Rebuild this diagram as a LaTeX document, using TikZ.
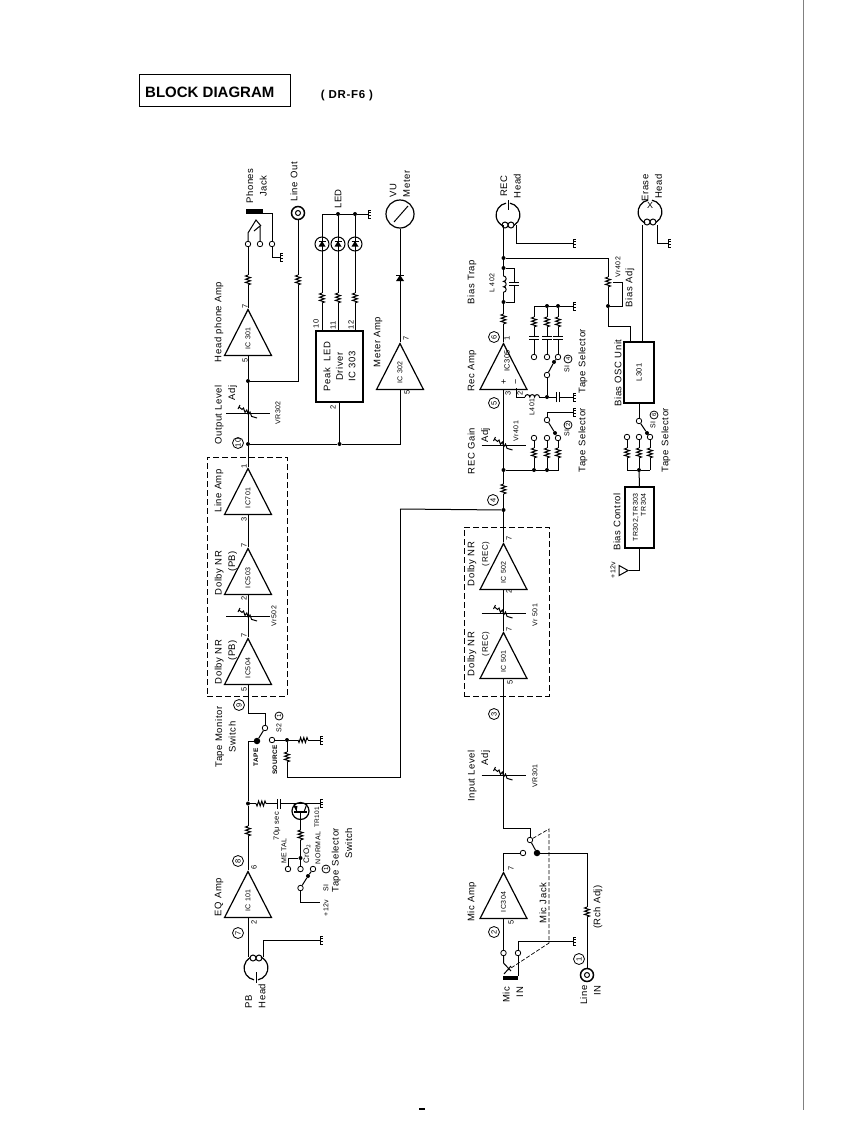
\documentclass[tikz,border=0pt]{standalone}
\usepackage{fontspec}
\setmainfont[LetterSpace=6]{Liberation Sans}
\newfontfamily\titlefont{Liberation Sans}
\usetikzlibrary{shapes.geometric}

\tikzset{
  wire/.style={line width=1pt},
  amp/.style={draw,line width=1.2pt,isosceles triangle,isosceles triangle stretches,minimum width=47pt,minimum height=46pt,inner sep=0pt,rotate=90,font=\fontsize{7}{8}\selectfont},
  lbl/.style={rotate=90,inner sep=0pt,font=\fontsize{9.5}{13.5}\selectfont},
  pinno/.style={rotate=90,inner sep=0pt,font=\fontsize{7.5}{8}\selectfont},
  small/.style={rotate=90,inner sep=0pt,font=\fontsize{7}{8}\selectfont},
  num/.style={circle,draw,line width=0.8pt,minimum size=11pt,inner sep=0pt,rotate=90,font=\fontsize{7.5}{8}\selectfont},
  numsmall/.style={num,minimum size=8pt,font=\fontsize{6}{7}\selectfont},
  term/.style={circle,draw,line width=0.8pt,fill=white,minimum size=5.5pt,inner sep=0pt},
  dot/.style={circle,fill,minimum size=4pt,inner sep=0pt},
  bdot/.style={circle,fill,minimum size=6.5pt,inner sep=0pt},
  blockbox/.style={draw,line width=1.2pt,inner sep=0pt,rotate=90},
  nrbox/.style={draw,dash pattern=on 6pt off 3pt,line width=1pt,inner sep=0pt},
  socket/.style={circle,draw,line width=1.5pt,minimum size=13pt,inner sep=0pt},
  vres/.pic={\fill[white] (-3,-5) rectangle (3,5);
    \draw[wire] (0,-5) -- (-2.5,-4) -- (2.5,-2.4) -- (-2.5,-0.8) -- (2.5,0.8) -- (-2.5,2.4) -- (2.5,4) -- (0,5);},
  vrpot/.pic={\draw[wire] (-22,0) -- (22,0);
    \draw[wire] (-10,-4) -- (-8,-8);
    \draw[wire] (-9,-6) -- (-6,-3.6) -- (-4.5,-5) -- (-3,-0.6) -- (-1.2,-3) -- (0.4,1.6) -- (2,-1) -- (3.6,3.4) -- (9,5);},
  vcap/.pic={\fill[white] (-5,-1.5) rectangle (5,1.5);
    \draw[wire] (-5,-1.5) -- (5,-1.5) (-5,1.5) -- (5,1.5);},
  gnd/.pic={\draw[wire] (0,-4) -- (0,4) (0,-4) -- (3,-4) (0,-1.3) -- (3,-1.3) (0,1.3) -- (3,1.3) (0,4) -- (3,4);},
  ledmark/.pic={\draw[wire,fill=white] (0,0) circle (7);
    \fill (-3.5,2.5) -- (3.5,2.5) -- (0,-3) -- cycle;
    \draw[wire] (-3.5,-3) -- (3.5,-3) (0,-7) -- (0,7);},
  diodemark/.pic={\fill (-4,3) -- (4,3) -- (0,-3) -- cycle;
    \draw[wire] (-4,-3) -- (4,-3);},
  headmark/.pic={\draw[line width=1.2pt] (-2,-11.8) arc[start angle=100,end angle=245,radius=12pt];
    \draw[line width=1.2pt] (2,-11.8) arc[start angle=80,end angle=-60,radius=12pt];
    \draw[wire] (-3,10) circle (3) (3,10) circle (3);},
}

\begin{document}
\begin{tikzpicture}[x=1pt,y=-1pt]
  \useasboundingbox (0,0) rectangle (866,1122);
  \fill[white] (0,0) rectangle (866,1122);

  \node[draw,line width=1pt,minimum width=151pt,minimum height=32pt,inner sep=0pt] (titlebox) at (214.5,90) {};
  \node[anchor=west,inner sep=0pt,font=\titlefont\bfseries\fontsize{15}{17}\selectfont] (title) at (145,92) {BLOCK DIAGRAM};
  \node[inner sep=0pt,font=\bfseries\fontsize{11.5}{13}\selectfont] (model) at (347,96) {( DR-F6 )};

  % line and headphone side
  \node[amp,anchor=apex] (ic301) at (248,308) {IC 301};
  \node[amp,anchor=apex] (ic701) at (248,467) {IC701};
  \node[amp,anchor=apex] (ic503) at (248,547) {IC503};
  \node[amp,anchor=apex] (ic504) at (248,637) {IC504};
  \node[amp,anchor=apex] (ic101) at (248,870) {IC 101};
  \node[amp,anchor=apex] (ic302) at (400,342) {IC 302};
  \node[nrbox,minimum width=80pt,minimum height=239pt] (pbnr) at (247,576.5) {};

  \fill (246,209) rectangle (263,214);
  \node[term] (jacka) at (248,244) {};
  \node[term] (jackb) at (260,244) {};
  \node[term] (jackc) at (272,244) {};
  \coordinate (jacktop) at (263,213);
  \coordinate (jackgnd) at (280,257);
  \draw[wire] (jacka) -- (248,233) -- (256,220) -- (261,226);
  \draw[wire] (jackb) -- (260,226) -- (254,231);
  \draw[wire] (jacktop) -| (jackc);
  \draw[wire] (jackc) |- (jackgnd);
  \pic at (jackgnd) {gnd};
  \draw[wire] (jacka) -- (ic301.apex);
  \pic at (248,280) {vres};

  \node[socket] (lineout) at (298,213) {};
  \draw[wire] (298,213) circle (2.5);
  \node[dot] (jlevel) at (248,381) {};
  \draw[wire] (lineout) |- (jlevel);
  \pic at (298,280) {vres};
  \draw[wire] (ic301.lower side) -- (jlevel);

  \node[dot] (j10) at (248,444) {};
  \node[dot] (jdrv) at (339.5,444) {};
  \draw[wire] (jlevel) -- (j10);
  \pic at (248,413) {vrpot};
  \draw[wire] (j10) -- (ic701.apex);
  \draw[wire] (ic701.lower side) -- (ic503.apex);
  \draw[wire] (ic503.lower side) -- (ic504.apex);
  \pic at (248,616) {vrpot};
  \coordinate (c9) at (248,713);
  \node[term] (s2a) at (265,728) {};
  \node[bdot] (s2b) at (257,741) {};
  \node[dot] (jeq) at (248,803.5) {};
  \draw[wire] (ic504.lower side) -- (c9) -| (s2a);
  \draw[wire] (s2a) -- (s2b);
  \draw[wire] (s2b) -| (jeq);
  \draw[wire] (jeq) -- (ic101.apex);
  \pic at (248,831) {vres};

  \node[term] (s2src) at (272,740) {};
  \node[dot] (jsrc) at (287,740) {};
  \coordinate (srcgnd) at (320,740);
  \coordinate (c777) at (400,777);
  \coordinate (c509) at (400,509);
  \draw[wire] (s2src) -- (jsrc) -- (srcgnd);
  \pic at (srcgnd) {gnd};
  \pic[rotate=90] at (303,740) {vres};
  \draw[wire] (jsrc) |- (c777) -- (c509);
  \pic at (287,757) {vres};

  % peak driver and meter
  \node[blockbox,minimum width=71pt,minimum height=47pt,align=center,font=\fontsize{9.5}{12.5}\selectfont] (ic303) at (339.5,366.5) {Peak\hspace{7pt}LED\\Driver\\IC 303};
  \coordinate (ledrail) at (322,214);
  \node[dot] (ledb) at (338,214) {};
  \node[dot] (ledc) at (355,214) {};
  \coordinate (ledgnd) at (368,214);
  \draw[wire] (ledrail) -- (ledb) -- (ledc) -- (ledgnd);
  \pic at (ledgnd) {gnd};
  \draw[wire] (ledrail) -- (322,331);
  \draw[wire] (ledb) -- (338,331);
  \draw[wire] (ledc) -- (355,331);
  \pic at (322,244) {ledmark};
  \pic at (338,244) {ledmark};
  \pic at (355,244) {ledmark};
  \pic at (322,298) {vres};
  \pic at (338,298) {vres};
  \pic at (355,298) {vres};
  \draw[wire] (jdrv) -- (ic303.west);
  \draw[wire] (j10) -- (jdrv) -| (ic302.lower side);

  \node[draw,circle,line width=1.2pt,minimum size=28pt,inner sep=0pt] (vu) at (400,214) {};
  \draw[wire] (394,222) -- (408,206);
  \draw[wire] (vu) -- (ic302.apex);
  \pic at (400,278) {diodemark};

  % eq amp and tape selector
  \coordinate (pbhead) at (256,968);
  \pic[rotate=180] at (pbhead) {headmark};
  \draw[wire] (256,972) -- (256,983);
  \draw[wire] (ic101.lower side) -- (248,957);
  \coordinate (pbgnd) at (320,940);
  \draw[wire] (263,957) |- (pbgnd);
  \pic at (pbgnd) {gnd};

  \coordinate (trgnd) at (320,803.5);
  \node[draw,circle,line width=1.2pt,minimum size=17pt,inner sep=0pt] (tr101) at (300.5,811) {};
  \draw[wire] (jeq) -- (trgnd);
  \pic at (trgnd) {gnd};
  \pic[rotate=90] at (261,803.5) {vres};
  \pic[rotate=90] at (279,803.5) {vcap};
  \draw[wire] (294,803.5) -- (297,812) (307,803.5) -- (304,812);
  \draw[line width=1.4pt] (294,812) -- (307,812);
  \fill (293.5,806) -- (297.5,806) -- (296.5,811) -- cycle;
  \node[dot] (jbase) at (300.5,858) {};
  \draw[wire] (300.5,812) -- (jbase);
  \pic at (300.5,835) {vres};
  \node[term] (s1metal) at (288,869) {};
  \node[term] (s1cro) at (300.5,869) {};
  \node[term] (s1norm) at (313,869) {};
  \node[term] (s1pole) at (300.5,888) {};
  \node[dot] (s1knob) at (308,876) {};
  \coordinate (plus12a) at (320,902);
  \draw[wire] (jbase) -| (s1metal);
  \draw[wire] (jbase) -- (s1cro);
  \draw[wire] (s1pole) -- (s1knob) -- (s1norm);
  \draw[wire] (s1pole) |- (plus12a);

  % rec side
  \node[amp,anchor=apex] (ic305) at (503.5,342) {};
  \node[amp,anchor=apex] (ic502) at (503.5,542) {IC 502};
  \node[amp,anchor=apex] (ic501) at (503.5,631) {IC 501};
  \node[amp,anchor=apex] (ic304) at (503.5,871) {IC304};
  \node[nrbox,minimum width=85pt,minimum height=169pt] (recnr) at (506.5,611.5) {};

  \coordinate (rechead) at (508,215);
  \pic at (rechead) {headmark};
  \draw[wire] (508,200) -- (508,210);
  \coordinate (recgnd) at (573,243);
  \node[dot] (jbias) at (503.5,258) {};
  \node[dot] (jtrapa) at (503.5,268) {};
  \node[dot] (jtrapb) at (503.5,302) {};
  \draw[wire] (516,225) |- (recgnd);
  \pic at (recgnd) {gnd};
  \draw[wire] (503.5,225) -- (jbias) -- (jtrapa) -- (jtrapb) -- (ic305.apex);
  \fill[white] (501,276) rectangle (506,292);
  \draw[wire] (503.5,276) arc[start angle=90,end angle=-90,radius=2.7pt] arc[start angle=90,end angle=-90,radius=2.7pt] arc[start angle=90,end angle=-90,radius=2.7pt];
  \draw[wire] (jtrapa) -| (514,302) -- (jtrapb);
  \pic at (514,284) {vcap};
  \pic at (503.5,319) {vres};

  \node[dot] (jvr402) at (608,306) {};
  \draw[wire] (jbias) -| (jvr402);
  \pic at (608,282) {vres};
  \draw[wire] (613,282) -- (622,282) |- (jvr402);
  \node[blockbox,minimum width=61pt,minimum height=30pt,font=\fontsize{7.5}{9}\selectfont] (l301) at (639,372.5) {L301};
  \coordinate (c326) at (608,326);
  \draw[wire] (jvr402) -- (c326) -| (630,342);
  \coordinate (erasehead) at (650,212);
  \pic at (erasehead) {headmark};
  \draw[wire] (642,342) -- (642,225);
  \coordinate (erasegnd) at (668,243);
  \draw[wire] (657,225) |- (erasegnd);
  \pic at (erasegnd) {gnd};

  \coordinate (railtop) at (534,306);
  \node[dot] (rtb) at (547,306) {};
  \node[dot] (rtc) at (558,306) {};
  \coordinate (railgnd) at (573,306);
  \draw[wire] (railtop) -- (rtb) -- (rtc) -- (railgnd);
  \pic at (railgnd) {gnd};
  \node[term] (s4a) at (534,357) {};
  \node[term] (s4b) at (547,357) {};
  \node[term] (s4c) at (558,357) {};
  \node[term] (s4p) at (547,375) {};
  \node[dot] (s4knob) at (554,362) {};
  \draw[wire] (railtop) -- (s4a);
  \draw[wire] (rtb) -- (s4b);
  \draw[wire] (rtc) -- (s4c);
  \draw[wire] (s4p) -- (s4knob) -- (s4c);
  \foreach \px in {534,547,558} {
    \pic at (\px,322) {vres};
    \pic at (\px,338) {vcap};
  }
  \node[dot] (jl401) at (547,397) {};
  \coordinate (l401gnd) at (573,397);
  \coordinate (c2a) at (516,397);
  \draw[wire] (516,388) -- (c2a) -- (jl401) -- (l401gnd);
  \pic at (l401gnd) {gnd};
  \draw[wire] (s4p) -- (jl401);
  \pic[rotate=90] at (558,397) {vcap};
  \fill[white] (525,395) rectangle (539,399);
  \draw[wire] (525,397) arc[start angle=180,end angle=0,radius=2.4pt] arc[start angle=180,end angle=0,radius=2.4pt] arc[start angle=180,end angle=0,radius=2.4pt];

  \node[dot] (jrail) at (503.5,470) {};
  \draw[wire] (ic305.lower side) -- (jrail);
  \pic at (503.5,445) {vrpot};
  \node[term] (s2p) at (547,420) {};
  \node[term] (s2ta) at (534,438) {};
  \node[term] (s2tb) at (547,438) {};
  \node[term] (s2tc) at (558,438) {};
  \node[dot] (s2knob) at (555,433) {};
  \coordinate (s2gnd) at (573,412);
  \draw[wire] (s2p) -- (547,412) -- (s2gnd);
  \pic at (s2gnd) {gnd};
  \draw[wire] (s2p) -- (s2knob) -- (s2tc);
  \node[dot] (jra) at (534,470) {};
  \node[dot] (jrb) at (547,470) {};
  \coordinate (jrc) at (558,470);
  \draw[wire] (jrail) -- (jra) -- (jrb) -- (jrc) -- (s2tc);
  \draw[wire] (jra) -- (s2ta);
  \draw[wire] (jrb) -- (s2tb);
  \pic at (534,453) {vres};
  \pic at (547,453) {vres};
  \pic at (558,453) {vres};

  \node[dot] (j4) at (503.5,510) {};
  \draw[wire] (j4) -- (jrail);
  \pic at (503.5,489) {vres};
  \draw[wire] (c509) -- (j4);
  \draw[wire] (ic502.apex) -- (j4);
  \draw[wire] (ic502.lower side) -- (ic501.apex);
  \pic at (503.5,613) {vrpot};
  \coordinate (c828) at (503.5,828);
  \node[term] (micsa) at (530,840) {};
  \node[bdot] (micsb) at (537,853) {};
  \node[term] (micsc) at (523,853) {};
  \draw[wire] (ic501.lower side) -- (c828) -| (micsa);
  \draw[wire] (micsa) -- (micsb);
  \pic at (503.5,775) {vrpot};
  \draw[wire] (micsc) -| (ic304.apex);
  \node[socket] (linein) at (587,975) {};
  \draw[wire] (587,975) circle (2.5);
  \draw[wire] (micsb) -| (linein);
  \pic at (587,912) {vres};
  \node[term] (micja) at (503.5,953) {};
  \node[term] (micjb) at (518,953) {};
  \coordinate (micgnd) at (573,941);
  \draw[wire] (ic304.lower side) -- (micja);
  \draw[wire] (micjb) |- (micgnd);
  \pic at (micgnd) {gnd};
  \fill (503,975.5) rectangle (517.5,979.5);
  \draw[wire] (micjb) -- (518,976);
  \draw[wire] (micja) -- (503.5,963) -- (511,971);
  \draw[wire] (504,974) -- (511,966);
  \draw[dash pattern=on 4pt off 2pt,line width=0.7pt] (micsa) -- (549,829) -- (549,943) -- (508,970);

  % bias control
  \node[blockbox,minimum width=61pt,minimum height=29pt,align=right,font=\fontsize{7}{8}\selectfont] (biasctl) at (639.5,517.5) {TR302,TR303\\TR304};
  \node[draw,line width=1pt,isosceles triangle,isosceles triangle stretches,minimum width=10pt,minimum height=9pt,inner sep=0pt] (plus12b) at (622,570.5) {};
  \draw[wire] (biasctl.west) |- (plus12b.apex);
  \node[dot] (jbc) at (639,470) {};
  \coordinate (bca) at (627,470);
  \coordinate (bcc) at (650,470);
  \draw[wire] (bca) -- (jbc) -- (bcc);
  \draw[wire] (jbc) -- (biasctl.east);
  \node[term] (s6a) at (627,437) {};
  \node[term] (s6b) at (639,437) {};
  \node[term] (s6c) at (650,437) {};
  \node[term] (s6p) at (639,421) {};
  \node[dot] (s6knob) at (647,433) {};
  \draw[wire] (bca) -- (s6a);
  \draw[wire] (jbc) -- (s6b);
  \draw[wire] (bcc) -- (s6c);
  \draw[wire] (s6p) -- (s6knob) -- (s6c);
  \draw[wire] (s6p) -- (l301.west);
  \pic at (627,453) {vres};
  \pic at (639,453) {vres};
  \pic at (650,453) {vres};

  % labels
  \node[lbl,align=center] (lphones) at (256.5,186) {Phones\\Jack};
  \node[lbl] (llineout) at (294,182) {Line Out};
  \node[lbl] (lled) at (338,199) {LED};
  \node[lbl,align=left] (lvu) at (400,184) {VU\\Meter};
  \node[lbl] (lhp) at (219,322) {Head phone Amp};
  \node[lbl] (lmeter) at (378,342) {Meter Amp};
  \node[lbl,align=right] (loutput) at (226,415) {Output Level\\Adj};
  \node[small] (lvr302) at (278,413) {VR302};
  \node[num] (n10) at (238,443) {10};
  \node[lbl] (lline) at (219,491) {Line Amp};
  \node[lbl,align=right] (lpba) at (226,573) {Dolby NR\\(PB)\hspace{5pt}};
  \node[small] (lvr502) at (274,616) {Vr502};
  \node[lbl,align=right] (lpbb) at (226,662) {Dolby NR\\(PB)};
  \node[lbl,align=center] (lmon) at (225.5,737) {Tape Monitor\\Switch};
  \node[num] (n9) at (239,705) {9};
  \node[small] (ls2) at (279,728) {S2};
  \node[numsmall] (ns2) at (279,716) {1};
  \node[small,font=\bfseries\fontsize{6.5}{7}\selectfont] (ltape) at (256,757) {TAPE};
  \node[small,font=\bfseries\fontsize{6.5}{7}\selectfont] (lsource) at (275,760) {SOURCE};
  \node[small,font=\fontsize{7.5}{8}\selectfont] (l70) at (277,826) {70μ sec};
  \node[small,font=\fontsize{6.5}{7}\selectfont] (ltr101) at (317,817) {TR101};
  \node[small] (lmetal) at (284,851) {METAL};
  \node[small,font=\fontsize{8}{9}\selectfont] (lcro) at (307,854) {CrO$_2$};
  \node[small] (lnormal) at (318,848) {NORMAL};
  \node[small] (ls1) at (326,888) {SI};
  \node[numsmall] (ns1) at (326,869) {1};
  \node[lbl,align=right] (lsel) at (342,860) {Tape Selector\\Switch\hspace{6pt}};
  \node[small] (lplusa) at (326,908) {+12v};
  \node[num] (n8) at (238,861) {8};
  \node[lbl] (leq) at (219,897) {EQ Amp};
  \node[num] (n7) at (238,933) {7};
  \node[lbl,align=left] (lpb) at (255.5,996) {PB\\Head};

  \node[lbl,align=center] (lrec) at (510.5,186) {REC\\Head};
  \node[lbl,align=right] (lerase) at (652,188) {Erase\\Head};
  \node[inner sep=0pt,font=\fontsize{9}{10}\selectfont] (xerase) at (650,205) {X};
  \node[lbl] (ltrap) at (472,282) {Bias Trap};
  \node[small] (ll402) at (492,283) {L 402};
  \node[small] (lvr402) at (618,267) {Vr402};
  \node[lbl] (lbiasadj) at (630,288) {Bias Adj};
  \node[num] (n6) at (494,337) {6};
  \node[lbl] (lrecamp) at (472,371) {Rec Amp};
  \node[small,font=\fontsize{7.5}{9}\selectfont] (lic305) at (507,361) {IC305};
  \node[small,font=\fontsize{9}{10}\selectfont] (lplus) at (504,382) {+};
  \node[small,font=\fontsize{9}{10}\selectfont] (lminus) at (517,382) {\textminus};
  \node[num] (n5) at (494,403) {5};
  \node[small] (ll401) at (532,407) {L401};
  \node[small] (lsi4) at (567,369) {SI};
  \node[numsmall] (ns4) at (568,359) {4};
  \node[lbl] (lsel4) at (583,361) {Tape Selector};
  \node[small] (lvr401) at (516,431) {Vr401};
  \node[lbl,align=right] (lrecgain) at (479,451) {REC Gain\\Adj};
  \node[small] (lsi2) at (567,433) {SI};
  \node[numsmall] (ns2b) at (568,425) {2};
  \node[lbl] (lsel2) at (583,440) {Tape Selector};
  \node[lbl] (lbosc) at (618,373) {Bias OSC Unit};
  \node[small] (lsi6) at (653,425) {SI};
  \node[numsmall] (ns6) at (654,415) {6};
  \node[lbl] (lsel6) at (666,440) {Tape Selector};
  \node[num] (n4) at (493,500) {4};
  \node[lbl] (lbc) at (617,522) {Bias Control};
  \node[small] (lplusb) at (613,570) {+12v};
  \node[lbl,align=right] (lreca) at (478.5,564) {Dolby NR\\{\fontsize{8}{13.5}\selectfont (REC)}};
  \node[small] (lvr501) at (535,615) {Vr 501};
  \node[lbl,align=right] (lrecb) at (478.5,654) {Dolby NR\\{\fontsize{8}{13.5}\selectfont (REC)}};
  \node[num] (n3) at (494,714) {3};
  \node[lbl,align=right] (linput) at (479,776) {Input Level\\Adj};
  \node[small] (lvr301) at (535,776) {VR301};
  \node[lbl] (lmic) at (472,902) {Mic Amp};
  \node[lbl] (lmicjack) at (543,903) {Mic Jack};
  \node[lbl] (lrch) at (598,907) {(Rch Adj)};
  \node[num] (n2) at (494,932) {2};
  \node[num] (n1) at (579,959) {1};
  \node[lbl,align=right] (lmicin) at (513,995) {Mic\\IN};
  \node[lbl,align=right] (llinein) at (590.5,995) {Line\\IN};

  % pin numbers
  \node[pinno] (p301a) at (245,306) {7};
  \node[pinno] (p301b) at (245,360) {5};
  \node[pinno] (p10) at (316,324) {10};
  \node[pinno] (p11) at (333,325) {11};
  \node[pinno] (p12) at (351,325) {12};
  \node[pinno] (pdrv) at (333,407) {2};
  \node[pinno] (p302a) at (406,338) {7};
  \node[pinno] (p302b) at (407,392) {5};
  \node[pinno] (p701a) at (244,466) {1};
  \node[pinno] (p701b) at (244,519) {3};
  \node[pinno] (p503a) at (244,545) {7};
  \node[pinno] (p503b) at (244,598) {2};
  \node[pinno] (p504a) at (244,635) {7};
  \node[pinno] (p504b) at (244,689) {5};
  \node[pinno] (p101a) at (254,867) {6};
  \node[pinno] (p101b) at (254,922) {2};
  \node[pinno] (p305a) at (507,338) {1};
  \node[pinno] (p305b) at (508,393) {3};
  \node[pinno] (p305c) at (520,393) {2};
  \node[pinno] (p502a) at (509,538) {7};
  \node[pinno] (p502b) at (509,591) {2};
  \node[pinno] (p501a) at (509,629) {7};
  \node[pinno] (p501b) at (510,682) {5};
  \node[pinno] (p304a) at (511,868) {7};
  \node[pinno] (p304b) at (511,922) {5};

  % page marks
  \draw[gray,line width=0.9pt] (803.5,0) -- (803.5,1110);
  \draw[line width=1.1pt] (419,1109) -- (425,1109);
\end{tikzpicture}
\end{document}
